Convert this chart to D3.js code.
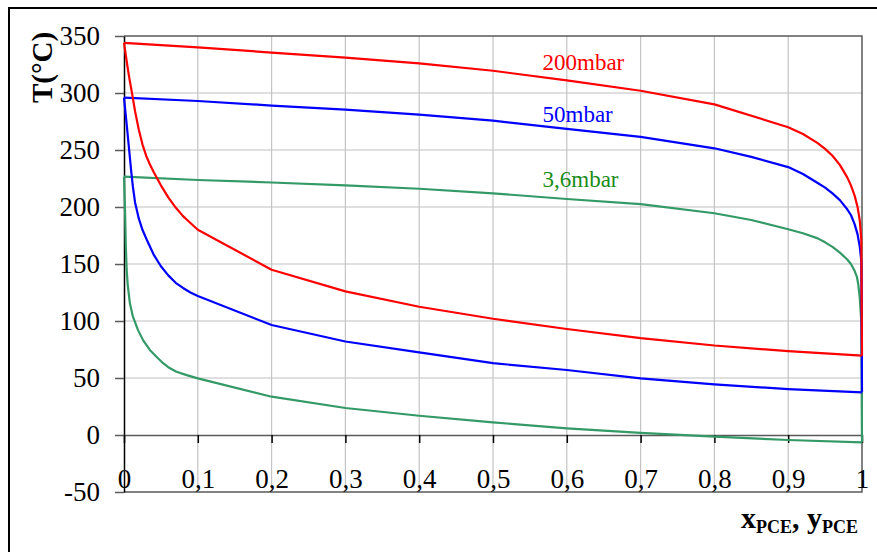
<!DOCTYPE html>
<html><head><meta charset="utf-8">
<script src="https://cdn.jsdelivr.net/npm/d3@7"></script>
<style>body{margin:0;background:#fff}svg{display:block}text{font-family:"Liberation Serif","Times New Roman",serif !important}</style>
</head><body><svg id="c" width="877" height="552"></svg>
<script>
// ---- data ----
const xTicks = [0,0.1,0.2,0.3,0.4,0.5,0.6,0.7,0.8,0.9,1];
const xTickLabels = ["0","0,1","0,2","0,3","0,4","0,5","0,6","0,7","0,8","0,9","1"];
const yTicks = [-50,0,50,100,150,200,250,300,350];
const seriesNames = ["200mbar","50mbar","3,6mbar"];

// 200 mbar
const dew200X = [0,0.1,0.2,0.3,0.4,0.5,0.6,0.7,0.8,0.9,0.92,0.94,0.95,0.96,0.97,0.98,0.985,0.99,0.994,0.997,0.999,1];
const dew200T = [344,340,335.5,331,326,319.5,311,302,290,270,264,256,251,245,237,226,219,210,200,188,172,69.6];
const bub200X = [0,0.0025,0.005,0.0075,0.01,0.015,0.02,0.025,0.03,0.035,0.04,0.05,0.06,0.07,0.08,0.09,0.1,0.2,0.3,0.4,0.5,0.6,0.7,0.8,0.9,1];
const bub200T = [344,333,322,312,303,284,268,255,245,237.5,231,219,208.5,199.5,192,186,180,145,126,112.5,102,93,85,78.5,73.5,69.6];
// 50 mbar
const dew50X = [0,0.1,0.2,0.3,0.4,0.5,0.6,0.7,0.8,0.85,0.9,0.92,0.94,0.95,0.96,0.97,0.98,0.985,0.99,0.994,0.997,0.999,1];
const dew50T = [296,293,289,285.5,281,275.7,268.5,261.5,251.5,244,235,229,221,217,212,206,198,193,185,176,165,153,37.4];
const bub50X = [0,0.002,0.004,0.007,0.01,0.012,0.015,0.02,0.025,0.031,0.04,0.05,0.06,0.07,0.08,0.09,0.1,0.2,0.3,0.4,0.5,0.6,0.7,0.8,0.9,1];
const bub50T = [296,283,270,250,230,218,204,190,180,171,158.5,148,140,133.5,129,125,122,96.5,82,72.5,63,57,49.7,44.4,40.3,37.4];
// 3,6 mbar
const dew36X = [0,0.1,0.2,0.3,0.4,0.5,0.6,0.7,0.8,0.85,0.9,0.92,0.94,0.95,0.96,0.97,0.98,0.985,0.99,0.993,0.995,0.997,0.999,1];
const dew36T = [226.6,223.7,221.5,219,216,212,207,202.5,194.5,188.6,180.5,177,172.5,169,165,160,154,150,144,139,132,120,100,-6.4];
const bub36X = [0,0.0007,0.0014,0.0025,0.0036,0.005,0.008,0.012,0.019,0.026,0.035,0.045,0.053,0.06,0.071,0.085,0.1,0.2,0.3,0.4,0.5,0.6,0.7,0.8,0.9,1];
const bub36T = [226.6,212,197,165,145,132,115.5,104,92,83,74.6,68,63,59.5,55.5,52.5,49.7,33.6,23.7,16.9,11.1,5.8,1.8,-1.5,-4.4,-6.4];

const colors = ["#ff0000","#0000ff","#339966"];
const labelColors = ["#ff0000","#0000ff","#1a8c1a"];

const svg = d3.select("#c");
svg.append("rect").attr("width",877).attr("height",552).attr("fill","#fff");
// outer frame
svg.append("rect").attr("x",9).attr("y",8).attr("width",880).attr("height",560)
  .attr("fill","none").attr("stroke","#000").attr("stroke-width",2);

const x = d3.scaleLinear().domain([0,1]).range([124,862]);
const y = d3.scaleLinear().domain([-50,350]).range([492,36]);

// grid
const g = svg.append("g");
g.selectAll(".hg").data(yTicks.filter(v=>v>0 && v<350)).enter().append("line")
  .attr("x1",x(0)).attr("x2",x(1)).attr("y1",d=>y(d)).attr("y2",d=>y(d))
  .attr("stroke","#d4d4d4").attr("stroke-width",1.5);
g.selectAll(".vg").data(xTicks.filter(v=>v>0 && v<1)).enter().append("line")
  .attr("x1",d=>x(d)).attr("x2",d=>x(d)).attr("y1",y(350)).attr("y2",y(-50))
  .attr("stroke","#c4c4c4").attr("stroke-width",1.2);

// plot border (top, right, bottom)
svg.append("path").attr("d",`M${x(0)},${y(350)}H${x(1)}V${y(-50)}H${x(0)}`)
  .attr("fill","none").attr("stroke","#5a5a5a").attr("stroke-width",1.5);

// y axis
const ya = svg.append("g").attr("transform",`translate(${x(0)},0)`)
  .call(d3.axisLeft(y).tickValues(yTicks).tickSize(9).tickSizeOuter(0).tickPadding(15).tickFormat(d=>String(d)));
ya.attr("font-family","Liberation Serif");
ya.select(".domain").attr("stroke","#000").attr("stroke-width",1.5);
ya.selectAll(".tick line").attr("stroke","#5a5a5a").attr("stroke-width",1.5);
ya.selectAll(".tick text").attr("font-size",27).attr("fill","#000").attr("dy","0.33em");

// x axis at T=0
const xa = svg.append("g").attr("transform",`translate(0,${y(0)})`)
  .call(d3.axisBottom(x).tickValues(xTicks).tickSize(8).tickSizeOuter(0).tickFormat((d,i)=>xTickLabels[i]));
xa.attr("font-family","Liberation Serif");
xa.select(".domain").attr("stroke","#5a5a5a").attr("stroke-width",1.5);
xa.selectAll(".tick line").attr("stroke","#000").attr("stroke-width",1.5);
xa.selectAll(".tick text").attr("font-size",27).attr("fill","#000").attr("y",53).attr("dy",0);

// curves
const line = d3.line().x(d=>x(d[0])).y(d=>y(d[1]));
const curves = [
  [dew200X,dew200T,0],[bub200X,bub200T,0],
  [dew50X,dew50T,1],[bub50X,bub50T,1],
  [dew36X,dew36T,2],[bub36X,bub36T,2]
];
curves.slice().reverse().forEach(([xs,ts,ci])=>{
  svg.append("path").attr("d",line(xs.map((v,i)=>[v,ts[i]])))
    .attr("fill","none").attr("stroke",colors[ci]).attr("stroke-width",2.2)
    .attr("stroke-linejoin","round");
});

// series labels
const labelY = [70,121.5,186.5];
seriesNames.forEach((n,i)=>{
  svg.append("text").attr("x",542.5).attr("y",labelY[i]).attr("font-size",23)
    .attr("fill",labelColors[i]).text(n);
});

// axis titles
svg.append("text").attr("transform","translate(52,67.5) rotate(-90)")
  .attr("text-anchor","middle").attr("font-size",29).attr("font-weight","bold").text("T(°C)");

const xt = svg.append("text").attr("x",858).attr("y",528).attr("text-anchor","end")
  .attr("font-weight","bold").attr("font-size",30);
xt.append("tspan").text("x");
xt.append("tspan").attr("font-size",18).attr("dy",5).text("PCE");
xt.append("tspan").attr("dy",-5).text(", y");
xt.append("tspan").attr("font-size",18).attr("dy",5).text("PCE");
</script></body></html>
